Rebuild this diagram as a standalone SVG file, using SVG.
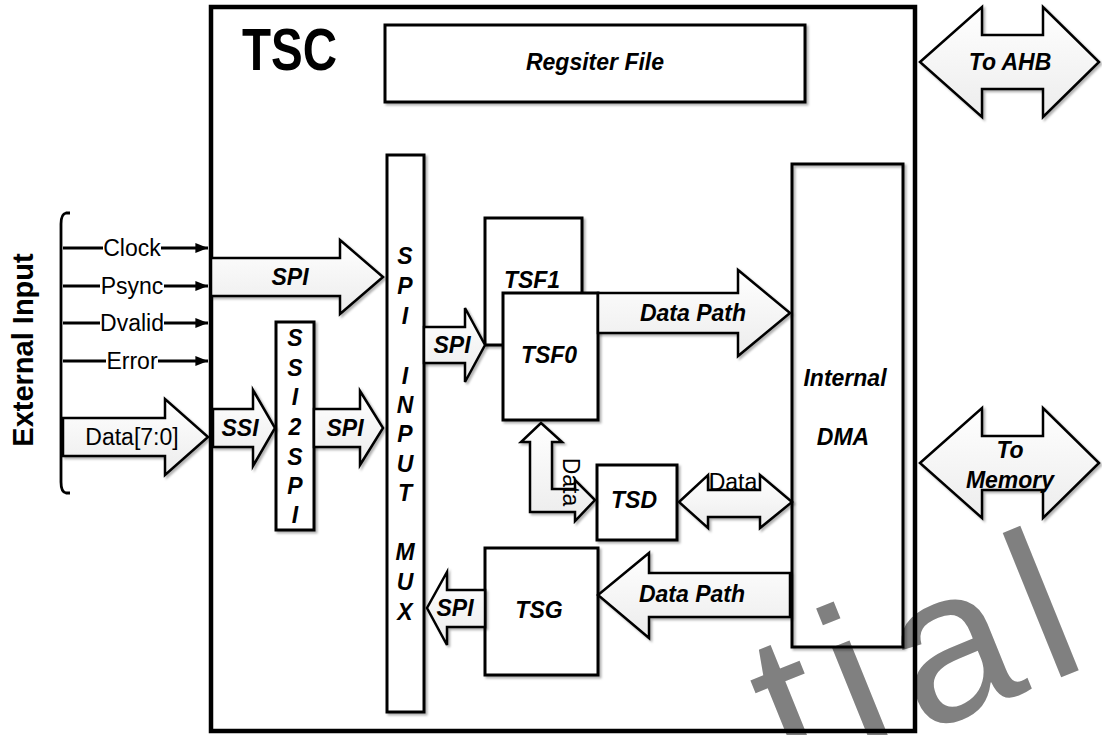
<svg xmlns="http://www.w3.org/2000/svg" width="1102" height="735" viewBox="0 0 1102 735">
<defs>
<linearGradient id="g" x1="0" y1="0" x2="0" y2="1"><stop offset="0" stop-color="#ffffff"/><stop offset="1" stop-color="#ececec"/></linearGradient>
<filter id="sh" x="-10%" y="-10%" width="130%" height="130%"><feDropShadow dx="2" dy="2" stdDeviation="1" flood-color="#000" flood-opacity="0.3"/></filter>
<marker id="ah" viewBox="0 0 10 10" refX="10" refY="5" markerWidth="4.5" markerHeight="4.5" orient="auto" markerUnits="strokeWidth"><path d="M0,1 L10,5 L0,9 Z" fill="#000"/></marker>
<style>
.box{fill:#fff;stroke:#000;stroke-width:3;filter:url(#sh)}
.arr{fill:url(#g);stroke:#000;stroke-width:2.5;stroke-linejoin:miter;filter:url(#sh)}
.lbl{font-family:"Liberation Sans",Arial,sans-serif;font-weight:bold;font-style:italic;font-size:23px;text-anchor:middle;fill:#000}
.sig{font-family:"Liberation Sans",Arial,sans-serif;font-size:23px;text-anchor:middle;fill:#000}
.ln{stroke:#000;stroke-width:2.8;fill:none}
.wm{font-family:"Liberation Sans",Arial,sans-serif;font-size:215px;letter-spacing:17px;fill:#808080}
</style>
</defs>
<rect width="1102" height="735" fill="#fff"/>
<text class="wm" transform="translate(790,787) rotate(-22)">tial</text>

<g id="tsc">
<rect x="211" y="7" width="704" height="724" fill="none" stroke="#000" stroke-width="4.5"/>
<text x="242" y="70" font-family="Liberation Sans,Arial,sans-serif" font-weight="bold" font-size="60" textLength="95" lengthAdjust="spacingAndGlyphs">TSC</text>
</g>

<g id="external-input">
<text class="lbl" style="font-style:normal;font-size:29px" transform="translate(33,350) rotate(-90)">External Input</text>
<path d="M70,213 L66,213 Q61,214 61,224 L61,482 Q61,492 66,493 L70,493" class="ln" stroke-width="1.5"/>
</g>

<g id="register-file">
<rect class="box" x="385" y="25" width="420" height="77"/>
<text class="lbl" x="595" y="70">Regsiter File</text>
</g>

<g id="to-ahb">
<path class="arr" d="M920,62 L982,7 L982,35 L1043,35 L1043,7 L1099,62 L1043,117 L1043,89 L982,89 L982,117 Z"/>
<text class="lbl" x="1010" y="70">To AHB</text>
</g>

<g id="to-memory">
<path class="arr" d="M920,463 L982,408 L982,436 L1043,436 L1043,408 L1099,463 L1043,518 L1043,490 L982,490 L982,518 Z"/>
<text class="lbl" x="1010" y="458">To</text>
<text class="lbl" x="1010" y="488">Memory</text>
</g>

<g id="spi-mux">
<rect class="box" x="387" y="155" width="37" height="557"/>
<text class="lbl" x="405" y="264">S</text>
<text class="lbl" x="405" y="294">P</text>
<text class="lbl" x="405" y="324">I</text>
<text class="lbl" x="405" y="384">I</text>
<text class="lbl" x="405" y="413">N</text>
<text class="lbl" x="405" y="442">P</text>
<text class="lbl" x="405" y="472">U</text>
<text class="lbl" x="405" y="501">T</text>
<text class="lbl" x="405" y="560">M</text>
<text class="lbl" x="405" y="590">U</text>
<text class="lbl" x="405" y="620">X</text>
</g>

<g id="ssi2spi">
<rect class="box" x="276" y="322" width="38" height="208"/>
<text class="lbl" x="295" y="346">S</text>
<text class="lbl" x="295" y="376">S</text>
<text class="lbl" x="295" y="405">I</text>
<text class="lbl" x="295" y="435">2</text>
<text class="lbl" x="295" y="465">S</text>
<text class="lbl" x="295" y="494">P</text>
<text class="lbl" x="295" y="523">I</text>
</g>

<g id="tsf1">
<rect class="box" x="485" y="218" width="97" height="127"/>
<text class="lbl" x="532" y="288">TSF1</text>
</g>
<g id="tsf0">
<rect class="box" x="503" y="293" width="95" height="127"/>
<text class="lbl" x="549" y="363">TSF0</text>
</g>

<g id="tsd">
<rect class="box" x="597" y="465" width="80" height="75"/>
<text class="lbl" x="634" y="508">TSD</text>
</g>

<g id="tsg">
<rect class="box" x="485" y="548" width="113" height="127"/>
<text class="lbl" x="539" y="618">TSG</text>
</g>

<g id="internal-dma">
<rect x="792" y="164" width="111" height="483" fill="none" stroke="#000" stroke-width="3" filter="url(#sh)"/>
<text class="lbl" x="845" y="386">Internal</text>
<text class="lbl" x="843" y="445">DMA</text>
</g>

<g id="connectors">
<line class="ln" x1="63" y1="248" x2="103" y2="248"/><text class="sig" x="132" y="256">Clock</text><line class="ln" x1="161" y1="248" x2="208" y2="248" marker-end="url(#ah)"/>
<line class="ln" x1="63" y1="286" x2="100" y2="286"/><text class="sig" x="132" y="294">Psync</text><line class="ln" x1="164" y1="286" x2="208" y2="286" marker-end="url(#ah)"/>
<line class="ln" x1="63" y1="323" x2="100" y2="323"/><text class="sig" x="132" y="331">Dvalid</text><line class="ln" x1="164" y1="323" x2="208" y2="323" marker-end="url(#ah)"/>
<line class="ln" x1="63" y1="361" x2="106" y2="361"/><text class="sig" x="132" y="369">Error</text><line class="ln" x1="158" y1="361" x2="208" y2="361" marker-end="url(#ah)"/>

<path class="arr" d="M63,418 L165,418 L165,399 L208,437 L165,475 L165,456 L63,456 Z"/>
<text class="sig" x="132" y="445">Data[7:0]</text>

<path class="arr" d="M211,258 L340,258 L340,240 L383,277 L340,314 L340,296 L211,296 Z"/>
<text class="lbl" x="290" y="285">SPI</text>

<path class="arr" d="M213,409 L253,409 L253,390 L275,428 L253,466 L253,447 L213,447 Z"/>
<text class="lbl" x="240" y="436">SSI</text>

<path class="arr" d="M314,409 L360,409 L360,391 L383,428 L360,465 L360,447 L314,447 Z"/>
<text class="lbl" x="345" y="436">SPI</text>

<path class="arr" d="M424,327 L465,327 L465,308 L485,345 L465,382 L465,363 L424,363 Z"/>
<text class="lbl" x="452" y="353">SPI</text>

<path class="arr" d="M598,293 L738,293 L738,270 L790,313 L738,356 L738,333 L598,333 Z"/>
<text class="lbl" x="693" y="321">Data Path</text>

<path class="arr" d="M541,423 L562,442 L552,442 L552,489 L575,489 L575,480 L595,500 L575,521 L575,512 L530,512 L530,442 L521,442 Z"/>
<text class="sig" transform="translate(563,482) rotate(90)">Data</text>

<path class="arr" d="M679,502 L708,475 L708,490 L760,490 L760,475 L792,502 L760,528 L760,517 L708,517 L708,528 Z"/>
<text class="sig" x="733" y="490">Data</text>

<path class="arr" d="M790,573 L649,573 L649,553 L598,595 L649,638 L649,617 L790,617 Z"/>
<text class="lbl" x="692" y="602">Data Path</text>

<path class="arr" d="M485,590 L447,590 L447,572 L427,608 L447,645 L447,627 L485,627 Z"/>
<text class="lbl" x="455" y="616">SPI</text>
</g>
</svg>
